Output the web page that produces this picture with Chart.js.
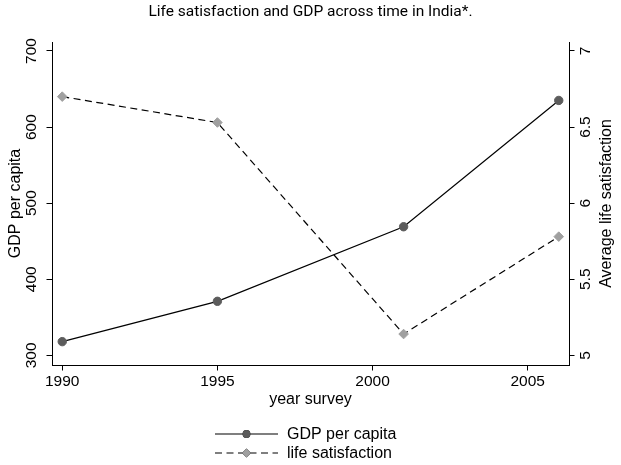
<!DOCTYPE html>
<html>
<head>
<meta charset="utf-8">
<script src="https://cdn.jsdelivr.net/npm/chart.js@4.4.1/dist/chart.umd.min.js"></script>
<style>
  html, body { margin: 0; padding: 0; background: #fff; }
  #wrap { width: 621px; height: 465px; }
</style>
</head>
<body>
<div id="wrap"><canvas id="c" width="621" height="465"></canvas></div>
<script>
// Survey years and the two series plotted against them
const years = [1990, 1995, 2001, 2006];
const gdpPerCapita = [318, 371, 469, 635];
const lifeSatisfaction = [6.70, 6.53, 5.14, 5.78];

// Tick values for each axis
const yearTicks = [1990, 1995, 2000, 2005];
const gdpTicks = [300, 400, 500, 600, 700];
const satisfactionTicks = [5, 5.5, 6, 6.5, 7];

const SANS = '"Liberation Sans", Arial, Helvetica, sans-serif';
const TITLE_FONT = 'Roboto, Lato, sans-serif';
const GDP_MARK = '#5c5c5c';
const LS_MARK = '#a0a0a0';

const toPoints = (xs, ys) => xs.map((x, i) => ({ x: x, y: ys[i] }));
const setTicks = values => scale => { scale.ticks = values.map(v => ({ value: v })); };

// Legend rows: line sample with the dataset's marker (a little smaller) in the middle
const lineLegend = {
  id: 'lineLegend',
  afterDraw(chart) {
    const ctx = chart.ctx;
    const x0 = 215, x1 = 278, xm = (x0 + x1) / 2, tx = 287;
    const rows = [434, 453];
    chart.data.datasets.forEach((ds, i) => {
      const y = rows[i];
      ctx.save();
      ctx.strokeStyle = ds.borderColor;
      ctx.lineWidth = ds.borderWidth;
      ctx.setLineDash(ds.borderDash || []);
      ctx.beginPath();
      ctx.moveTo(x0, y);
      ctx.lineTo(x1, y);
      ctx.stroke();
      ctx.setLineDash([]);
      Chart.helpers.drawPoint(ctx, {
        pointStyle: ds.pointStyle,
        radius: ds.pointRadius * 0.78,
        borderWidth: ds.pointBorderWidth,
        rotation: 0
      }, xm, y);
      ctx.fillStyle = ds.pointBackgroundColor;
      ctx.strokeStyle = ds.pointBorderColor;
      ctx.fill();
      ctx.stroke();
      ctx.fillStyle = '#000';
      ctx.font = '16px ' + SANS;
      ctx.textAlign = 'left';
      ctx.textBaseline = 'middle';
      ctx.fillText(ds.label, tx, y + 1);
      ctx.restore();
    });
  }
};

// Right-hand axis title, written bottom-to-top like the left one
const rightAxisTitle = {
  id: 'rightAxisTitle',
  afterDraw(chart) {
    const ctx = chart.ctx;
    const area = chart.chartArea;
    const s = chart.scales.y2;
    ctx.save();
    ctx.translate(s.right - 14, (area.top + area.bottom) / 2);
    ctx.rotate(-Math.PI / 2);
    ctx.fillStyle = '#000';
    ctx.font = '16px ' + SANS;
    ctx.textAlign = 'center';
    ctx.textBaseline = 'middle';
    ctx.fillText('Average life satisfaction', 0, 0);
    ctx.restore();
  }
};

const tickFont = { family: SANS, size: 15.5 };
const gridOpts = { drawOnChartArea: false, drawTicks: true, tickLength: 5.5, color: '#000', lineWidth: 1 };
const borderOpts = { display: true, color: '#000', width: 1 };

new Chart(document.getElementById('c'), {
  type: 'line',
  data: {
    datasets: [
      {
        label: 'GDP per capita',
        data: toPoints(years, gdpPerCapita),
        yAxisID: 'y',
        borderColor: '#000',
        borderWidth: 1.2,
        pointStyle: 'circle',
        pointRadius: 4.2,
        pointBorderWidth: 1,
        pointBackgroundColor: GDP_MARK,
        pointBorderColor: GDP_MARK,
        tension: 0
      },
      {
        label: 'life satisfaction',
        data: toPoints(years, lifeSatisfaction),
        yAxisID: 'y2',
        borderColor: '#000',
        borderWidth: 1.2,
        borderDash: [7, 4.5],
        pointStyle: 'rectRot',
        pointRadius: 4.8,
        pointBorderWidth: 1,
        pointBackgroundColor: LS_MARK,
        pointBorderColor: LS_MARK,
        tension: 0
      }
    ]
  },
  options: {
    responsive: false,
    animation: false,
    devicePixelRatio: 1,
    events: [],
    layout: { padding: 0 },
    plugins: {
      legend: { display: false },
      tooltip: { enabled: false },
      title: {
        display: true,
        text: 'Life satisfaction and GDP across time in India*.',
        color: '#000',
        font: { family: TITLE_FONT, size: 15.5, weight: 'normal', lineHeight: 1.2 },
        padding: { top: 3, bottom: 20.4 }
      }
    },
    scales: {
      x: {
        type: 'linear',
        position: 'bottom',
        min: 1989.67,
        max: 2006.33,
        afterBuildTicks: setTicks(yearTicks),
        afterFit: s => { s.height = 100; },
        ticks: { color: '#000', font: tickFont, padding: 2, maxRotation: 0, autoSkip: false, callback: v => String(v) },
        grid: gridOpts,
        border: borderOpts,
        title: { display: true, text: 'year survey', color: '#000', font: { family: SANS, size: 16 }, padding: { top: 0, bottom: 55.4 } }
      },
      y: {
        type: 'linear',
        position: 'left',
        min: 287.3,
        max: 711.8,
        afterBuildTicks: setTicks(gdpTicks),
        afterFit: s => { s.width = 52; },
        ticks: { color: '#000', font: tickFont, padding: 2, minRotation: 90, maxRotation: 90, crossAlign: 'center', autoSkip: false, callback: v => String(v) },
        grid: gridOpts,
        border: borderOpts,
        title: { display: true, text: 'GDP per capita', color: '#000', font: { family: SANS, size: 16 }, padding: { top: 5.5, bottom: 0 } }
      },
      y2: {
        type: 'linear',
        position: 'right',
        min: 4.9365,
        max: 7.059,
        afterBuildTicks: setTicks(satisfactionTicks),
        afterFit: s => { s.width = 52; },
        ticks: { color: '#000', font: tickFont, padding: 0, minRotation: 90, maxRotation: 90, crossAlign: 'center', autoSkip: false, callback: v => String(v) },
        grid: gridOpts,
        border: borderOpts,
        title: { display: false }
      }
    }
  },
  plugins: [lineLegend, rightAxisTitle]
});
</script>
</body>
</html>
